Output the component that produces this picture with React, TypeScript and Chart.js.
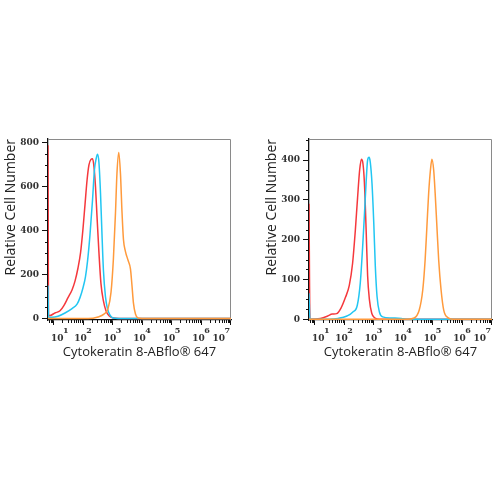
import React, { useEffect, useRef } from "react";
import { Chart, registerables } from "chart.js";
Chart.register(...registerables);

// ---------- data ----------
const X_TICK_EXPONENTS = [1, 2, 3, 4, 5, 6, 7];
const X_MIN = 6.5;
const X_MAX = 10400000;

const Y_LEFT_TICKS = [0, 200, 400, 600, 800];
const Y_RIGHT_TICKS = [0, 100, 200, 300, 400];

const RED_L_X = [6.5, 6.8, 7.6, 11.2, 16.6, 22.7, 31, 42.4, 53.5, 67.6, 82.6, 100, 117, 137, 159, 186, 210, 236, 265, 297, 347, 405, 492, 600, 761, 1050, 1780, 10400000];
const RED_L_Y = [790, 14, 14, 25, 35, 60, 95, 130, 170, 230, 300, 410, 520, 630, 700, 725, 728, 690, 600, 470, 300, 160, 80, 35, 12, 2, 0, 0];

const CYAN_L_X = [6.5, 6.8, 8.9, 14.2, 24.5, 42.4, 62.8, 79, 100, 121, 142, 172, 210, 245, 276, 310, 347, 392, 438, 492, 576, 675, 824, 1047, 1543, 10400000];
const CYAN_L_Y = [150, 5, 5, 10, 25, 45, 65, 95, 140, 190, 260, 380, 540, 680, 725, 748, 710, 570, 390, 220, 100, 45, 15, 2, 0, 0];

const ORANGE_L_X = [6.5, 148, 324, 513, 704, 891, 1070, 1260, 1413, 1630, 1860, 2090, 2350, 2750, 3370, 4070, 4570, 5130, 6000, 7240, 10000, 10400000];
const ORANGE_L_Y = [0, 0, 7, 20, 45, 120, 270, 480, 660, 757, 660, 490, 360, 305, 265, 225, 150, 70, 20, 2, 0, 0];

const RED_R_X = [6.5, 7.0, 15.8, 28, 40, 56, 79, 112, 151, 195, 240, 288, 339, 389, 437, 490, 562, 631, 724, 871, 1122, 1585, 10400000];
const RED_R_Y = [290, 0, 2, 8, 13, 14, 28, 55, 85, 140, 220, 305, 375, 402, 392, 345, 225, 110, 50, 15, 3, 0, 0];

const CYAN_R_X = [6.5, 7.0, 31.6, 63, 126, 200, 282, 355, 427, 490, 562, 631, 708, 776, 891, 1023, 1148, 1318, 1585, 2042, 3981, 8913, 12589, 10400000];
const CYAN_R_Y = [65, 0, 0, 2, 8, 18, 35, 90, 180, 260, 345, 400, 407, 395, 340, 240, 135, 57, 18, 6, 3, 2, 0, 0];

const ORANGE_R_X = [6.5, 14450, 24000, 35500, 46800, 56200, 64600, 74100, 85100, 95500, 109600, 123000, 141000, 162000, 195000, 240000, 331000, 479000, 10400000];
const ORANGE_R_Y = [0, 0, 3, 23, 74, 149, 233, 317, 375, 402, 375, 317, 233, 149, 74, 23, 4, 0, 0];

const X_TITLE = "Cytokeratin 8-ABflo® 647";
const Y_TITLE = "Relative Cell Number";

const RED = "#f5383c";
const CYAN = "#22c6f2";
const ORANGE = "#ff9a3c";

const TITLE_FONT = '"Open Sans", "Noto Sans", sans-serif';
const TICK_FONT = '"DejaVu Serif", "Liberation Serif", serif';

type Series = { x: number[]; y: number[]; color: string };

function makePlugin(minorStep: number, majorStep: number) {
  return {
    id: "frameTicks",
    beforeDatasetsDraw(chart: any) {
      const ctx = chart.ctx;
      const a = chart.chartArea;
      const xs = chart.scales.x;
      const ys = chart.scales.y;
      ctx.save();
      // top/right frame
      ctx.strokeStyle = "#8a8a8a";
      ctx.lineWidth = 1;
      ctx.beginPath();
      ctx.moveTo(a.left, a.top + 0.5);
      ctx.lineTo(a.right - 0.5, a.top + 0.5);
      ctx.lineTo(a.right - 0.5, a.bottom);
      ctx.stroke();
      // minor x ticks
      ctx.strokeStyle = "#111";
      ctx.beginPath();
      for (let k = 0; k <= 7; k++) {
        for (let m = 2; m <= 9; m++) {
          const v = m * Math.pow(10, k);
          if (v < xs.min || v > xs.max) continue;
          const px = Math.round(xs.getPixelForValue(v)) + 0.5;
          ctx.moveTo(px, a.bottom);
          ctx.lineTo(px, a.bottom + 3);
        }
      }
      // minor y ticks
      for (let v = 0; v <= ys.max; v += minorStep) {
        if (v % majorStep === 0) continue;
        const py = Math.round(ys.getPixelForValue(v)) + 0.5;
        ctx.moveTo(a.left - 3, py);
        ctx.lineTo(a.left, py);
      }
      ctx.stroke();
      ctx.restore();
    },
    afterDraw(chart: any) {
      const ctx = chart.ctx;
      const a = chart.chartArea;
      const xs = chart.scales.x;
      ctx.save();
      // x tick labels 10^n
      ctx.fillStyle = "#333";
      ctx.textBaseline = "alphabetic";
      ctx.textAlign = "left";
      for (const e of X_TICK_EXPONENTS) {
        const v = Math.pow(10, e);
        const c = xs.getPixelForValue(v);
        ctx.font = `bold 9px ${TICK_FONT}`;
        const wb = ctx.measureText("10").width;
        ctx.font = `bold 8px ${TICK_FONT}`;
        const we = ctx.measureText(String(e)).width;
        const tw = wb + we - 0.5;
        let x0 = c - tw / 2;
        if (x0 < a.left + 3) x0 = a.left + 3;
        if (x0 + tw > a.right - 1) x0 = a.right - 1 - tw;
        ctx.font = `bold 9px ${TICK_FONT}`;
        ctx.fillText("10", x0, a.bottom + 21);
        ctx.font = `bold 8px ${TICK_FONT}`;
        ctx.fillText(String(e), x0 + wb - 0.5, a.bottom + 13);
      }
      ctx.restore();
    },
  };
}

function Histogram(props: {
  left: number;
  width: number;
  padRight: number;
  yMin: number;
  yMax: number;
  yTicks: number[];
  minorStep: number;
  series: Series[];
}) {
  const ref = useRef<HTMLCanvasElement | null>(null);
  useEffect(() => {
    const canvas = ref.current!;
    const majorStep = props.yTicks[1] - props.yTicks[0];
    const chart = new Chart(canvas, {
      type: "line",
      data: {
        datasets: props.series.map((s) => ({
          data: s.x.map((x, i) => ({ x, y: s.y[i] })),
          borderColor: s.color,
          backgroundColor: s.color,
          borderWidth: 1.5,
          pointRadius: 0,
          tension: 0.3,
          cubicInterpolationMode: "monotone",
          fill: false,
        })),
      },
      options: {
        responsive: false,
        maintainAspectRatio: false,
        animation: false,
        layout: { padding: { left: 0, right: props.padRight, top: 9, bottom: 5 } },
        plugins: { legend: { display: false }, tooltip: { enabled: false } },
        scales: {
          x: {
            type: "logarithmic",
            min: X_MIN,
            max: X_MAX,
            afterFit: (s: any) => {
              s.height = 45;
            },
            afterBuildTicks: (s: any) => {
              s.ticks = X_TICK_EXPONENTS.map((e) => ({ value: Math.pow(10, e) }));
            },
            ticks: { callback: () => "", autoSkip: false, maxRotation: 0 },
            grid: { drawOnChartArea: false, drawTicks: true, tickLength: 5, tickColor: "#111", tickWidth: 1 },
            border: { color: "#111", width: 1.3 },
            title: {
              display: true,
              text: X_TITLE,
              color: "#222",
              font: { family: TITLE_FONT, size: 13 },
              padding: { top: 0, bottom: 5 },
            },
          },
          y: {
            min: props.yMin,
            max: props.yMax,
            afterFit: (s: any) => {
              s.width = 48;
            },
            afterBuildTicks: (s: any) => {
              s.ticks = props.yTicks.map((v) => ({ value: v }));
            },
            ticks: {
              autoSkip: false,
              padding: 3,
              color: "#333",
              font: { family: TICK_FONT, size: 9, weight: "bold" },
            },
            grid: { drawOnChartArea: false, drawTicks: true, tickLength: 6, tickColor: "#111", tickWidth: 1 },
            border: { color: "#111", width: 1.3 },
            title: {
              display: true,
              text: Y_TITLE,
              align: "end",
              color: "#222",
              font: { family: TITLE_FONT, size: 14 },
              padding: { top: 3, bottom: 0 },
            },
          },
        },
      },
      plugins: [makePlugin(props.minorStep, majorStep)],
    } as any);
    return () => chart.destroy();
  }, []);
  return (
    <canvas
      ref={ref}
      width={props.width}
      height={240}
      style={{ position: "fixed", left: props.left, top: 130, width: props.width, height: 240 }}
    />
  );
}

export default function App() {
  const leftSeries: Series[] = [
    { x: ORANGE_L_X, y: ORANGE_L_Y, color: ORANGE },
    { x: CYAN_L_X, y: CYAN_L_Y, color: CYAN },
    { x: RED_L_X, y: RED_L_Y, color: RED },
  ];
  const rightSeries: Series[] = [
    { x: ORANGE_R_X, y: ORANGE_R_Y, color: ORANGE },
    { x: CYAN_R_X, y: CYAN_R_Y, color: CYAN },
    { x: RED_R_X, y: RED_R_Y, color: RED },
  ];
  return (
    <div>
      <Histogram left={0} width={250} padRight={19} yMin={-7} yMax={818} yTicks={Y_LEFT_TICKS} minorStep={50} series={leftSeries} />
      <Histogram left={261} width={239} padRight={8} yMin={-2} yMax={453} yTicks={Y_RIGHT_TICKS} minorStep={25} series={rightSeries} />
    </div>
  );
}
